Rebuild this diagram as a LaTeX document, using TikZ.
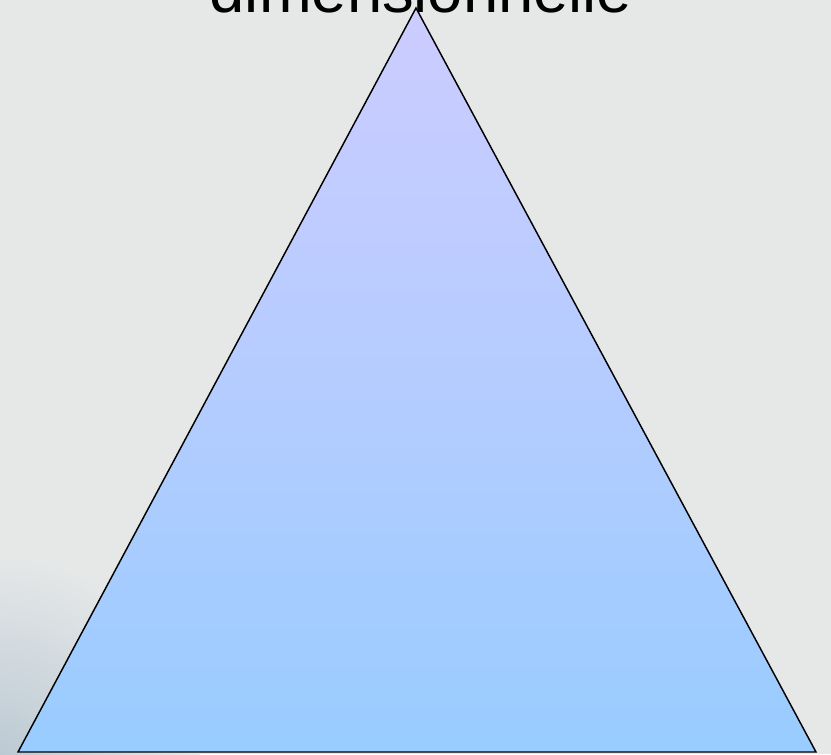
\documentclass[tikz,border=0pt]{standalone}
\usepackage{fontspec}
\setmainfont{Liberation Sans}
\usetikzlibrary{positioning}
\definecolor{bggrey}{RGB}{230,232,232}
\definecolor{bgblue}{RGB}{188,202,212}
\definecolor{toplilac}{RGB}{204,204,255}
\definecolor{botblue}{RGB}{153,204,255}

\begin{document}
\begin{tikzpicture}[x=0.75pt, y=-0.75pt]
            \useasboundingbox (0,0) rectangle (831,754);
            % Background
            \fill[bggrey] (0,0) rectangle (831,754);
            \begin{scope}
                \clip (0,0) rectangle (831,754);
                \shade[inner color=bgblue, outer color=bggrey] (0,754) circle (200);
            \end{scope}
            % Corners of the triangle
            \coordinate (apex) at (416,8);
            \coordinate (lcorner) at (18,752);
            \coordinate (rcorner) at (816,752);
            % Triangle
            \shade[top color=toplilac, bottom color=botblue, middle color=botblue!45!toplilac] (apex) -- (lcorner) -- (rcorner) -- cycle;
            \draw[line width=1.1pt, line join=miter] (apex) -- (lcorner) -- (rcorner) -- cycle;
            % Title
            \node[anchor=base, font=\fontsize{47.5}{50}\selectfont, inner sep=0pt] (title) at (421,12) {dimensionnelle};
        \end{tikzpicture}
\end{document}
